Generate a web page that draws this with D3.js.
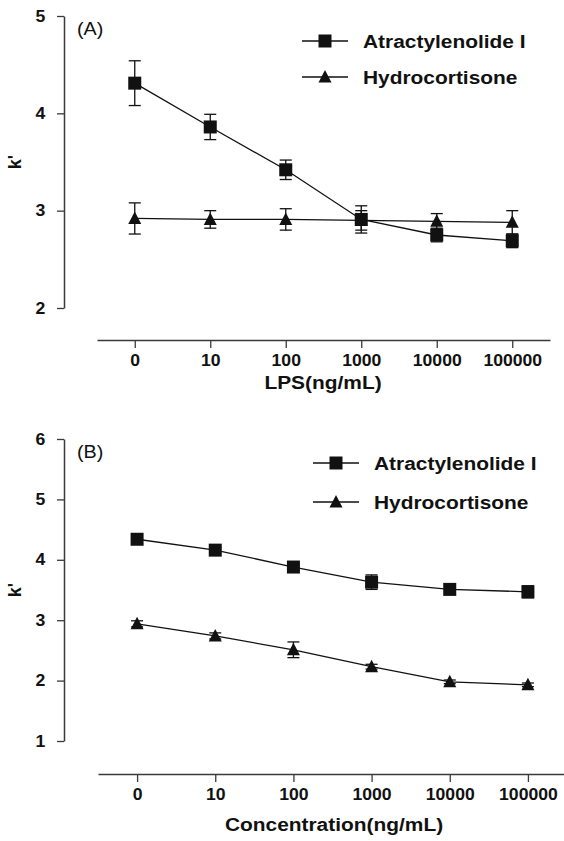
<!DOCTYPE html>
<html>
<head>
<meta charset="utf-8">
<script src="https://cdn.jsdelivr.net/npm/d3@7"></script>
<style>
  body { margin: 0; background: #fff; }
  svg { display: block; font-family: "Liberation Sans", Arial, sans-serif; }
</style>
</head>
<body>
<script>
// concentrations on the x axis (same for both panels)
const concLabels = ["0", "10", "100", "1000", "10000", "100000"];
const seriesNames = ["Atractylenolide I", "Hydrocortisone"];

// panel A : LPS
const atrA = [4.31, 3.86, 3.42, 2.91, 2.75, 2.69];
const atrAErr = [0.23, 0.13, 0.1, 0.14, 0.07, 0.07];
const hydA = [2.92, 2.91, 2.91, 2.9, 2.89, 2.88];
const hydAErr = [0.16, 0.09, 0.11, 0.1, 0.08, 0.12];
const yTicksA = [2, 3, 4, 5];

// panel B : concentration
const atrB = [4.34, 4.16, 3.88, 3.63, 3.51, 3.47];
const atrBErr = [0.08, 0.05, 0.05, 0.12, 0.06, 0.1];
const hydB = [2.94, 2.74, 2.51, 2.23, 1.98, 1.93];
const hydBErr = [0.05, 0.05, 0.13, 0.04, 0.03, 0.03];
const yTicksB = [1, 2, 3, 4, 5, 6];

const width = 564,
  height = 841,
  sx = 1.1; // reference text is a bit wide

const axisColor = "#3a3a3a",
  ink = "#111";

const svg = d3
  .select("body")
  .append("svg")
  .attr("width", width)
  .attr("height", height);

drawPanel({
  tag: "(A)",
  xTitle: "LPS(ng/mL)",
  series: [
    { values: atrA, err: atrAErr, shape: "square" },
    { values: hydA, err: hydAErr, shape: "triangle" },
  ],
  yDomain: [2, 5],
  yTicks: yTicksA,
  yRange: [308, 16],
  xRange: [97, 550],
  axisX: 64,
  axisY: 340,
  titleX: 323,
  titleY: 389,
  legendX: 302,
  legendY: [41, 77],
});

drawPanel({
  tag: "(B)",
  xTitle: "Concentration(ng/mL)",
  series: [
    { values: atrB, err: atrBErr, shape: "square" },
    { values: hydB, err: hydBErr, shape: "triangle" },
  ],
  yDomain: [1, 6],
  yTicks: yTicksB,
  yRange: [741, 439],
  xRange: [98, 567],
  axisX: 64,
  axisY: 774,
  titleX: 334,
  titleY: 831,
  legendX: 313,
  legendY: [463, 502],
});

function marker(g, shape) {
  if (shape === "square") {
    g.append("rect")
      .attr("x", -6.5)
      .attr("y", -6.5)
      .attr("width", 13)
      .attr("height", 13)
      .attr("fill", ink);
  } else {
    g.append("path").attr("d", "M0,-7L6.5,5.5L-6.5,5.5Z").attr("fill", ink);
  }
}

function stretchedText(g, x, y, txt, size, anchor, weight) {
  return g
    .append("text")
    .attr("transform", `translate(${x},${y}) scale(${sx},1)`)
    .attr("text-anchor", anchor)
    .attr("font-size", size)
    .attr("font-weight", weight)
    .attr("fill", ink)
    .text(txt);
}

function drawPanel(cfg) {
  const x = d3.scalePoint().domain(concLabels).range(cfg.xRange).padding(0.5);
  const y = d3.scaleLinear().domain(cfg.yDomain).range(cfg.yRange);

  const g = svg.append("g");

  // y axis
  const yAxis = g
    .append("g")
    .attr("transform", `translate(${cfg.axisX},0)`)
    .call(
      d3.axisLeft(y).tickValues(cfg.yTicks).tickFormat(d3.format("d"))
        .tickSize(7).tickSizeOuter(0).tickPadding(10)
    );

  // x axis
  const xAxis = g
    .append("g")
    .attr("transform", `translate(0,${cfg.axisY})`)
    .call(d3.axisBottom(x).tickSize(8).tickSizeOuter(0).tickPadding(7));

  [yAxis, xAxis].forEach((a) => {
    a.select(".domain").attr("stroke", axisColor).attr("stroke-width", 1.5);
    a.selectAll(".tick line").attr("stroke", axisColor).attr("stroke-width", 1.3);
    a.selectAll("text")
      .attr("font-family", "Liberation Sans, Arial, sans-serif")
      .attr("font-size", 16)
      .attr("font-weight", "bold")
      .attr("fill", ink)
      .attr("transform", `scale(${sx},1)`);
  });

  // axis titles
  stretchedText(g, cfg.titleX, cfg.titleY, cfg.xTitle, 19, "middle", "bold");
  const my = (cfg.yRange[0] + cfg.yRange[1]) / 2;
  g.append("text")
    .attr("transform", `translate(21,${my}) rotate(-90)`)
    .attr("text-anchor", "middle")
    .attr("font-size", 18)
    .attr("font-weight", "bold")
    .attr("fill", ink)
    .text("k'");

  // panel tag
  stretchedText(g, 77, cfg.yRange[1] + 19, cfg.tag, 18, "start", "normal");

  // series
  cfg.series.forEach((s) => {
    const pts = s.values.map((v, i) => ({ k: concLabels[i], v, e: s.err[i] }));

    // error bars
    const eb = g.append("g").attr("stroke", ink).attr("stroke-width", 1.3);
    pts.forEach((p) => {
      const cx = x(p.k),
        top = y(p.v + p.e),
        bot = y(p.v - p.e);
      eb.append("line").attr("x1", cx).attr("x2", cx).attr("y1", top).attr("y2", bot);
      eb.append("line").attr("x1", cx - 6).attr("x2", cx + 6).attr("y1", top).attr("y2", top);
      eb.append("line").attr("x1", cx - 6).attr("x2", cx + 6).attr("y1", bot).attr("y2", bot);
    });

    g.append("path")
      .datum(pts)
      .attr("fill", "none")
      .attr("stroke", ink)
      .attr("stroke-width", 1.3)
      .attr("d", d3.line().x((d) => x(d.k)).y((d) => y(d.v)));

    g.selectAll(null)
      .data(pts)
      .enter()
      .append("g")
      .attr("transform", (d) => `translate(${x(d.k)},${y(d.v)})`)
      .each(function () {
        marker(d3.select(this), s.shape);
      });
  });

  // legend
  cfg.series.forEach((s, i) => {
    const ly = cfg.legendY[i];
    const lg = g.append("g").attr("transform", `translate(${cfg.legendX},${ly})`);
    lg.append("line")
      .attr("x1", 0)
      .attr("x2", 46)
      .attr("stroke", ink)
      .attr("stroke-width", 1.3);
    const m = lg.append("g").attr("transform", "translate(23,0)");
    marker(m, s.shape);
    stretchedText(lg, 61, 7, seriesNames[i], 19, "start", "bold");
  });
}
</script>
</body>
</html>
